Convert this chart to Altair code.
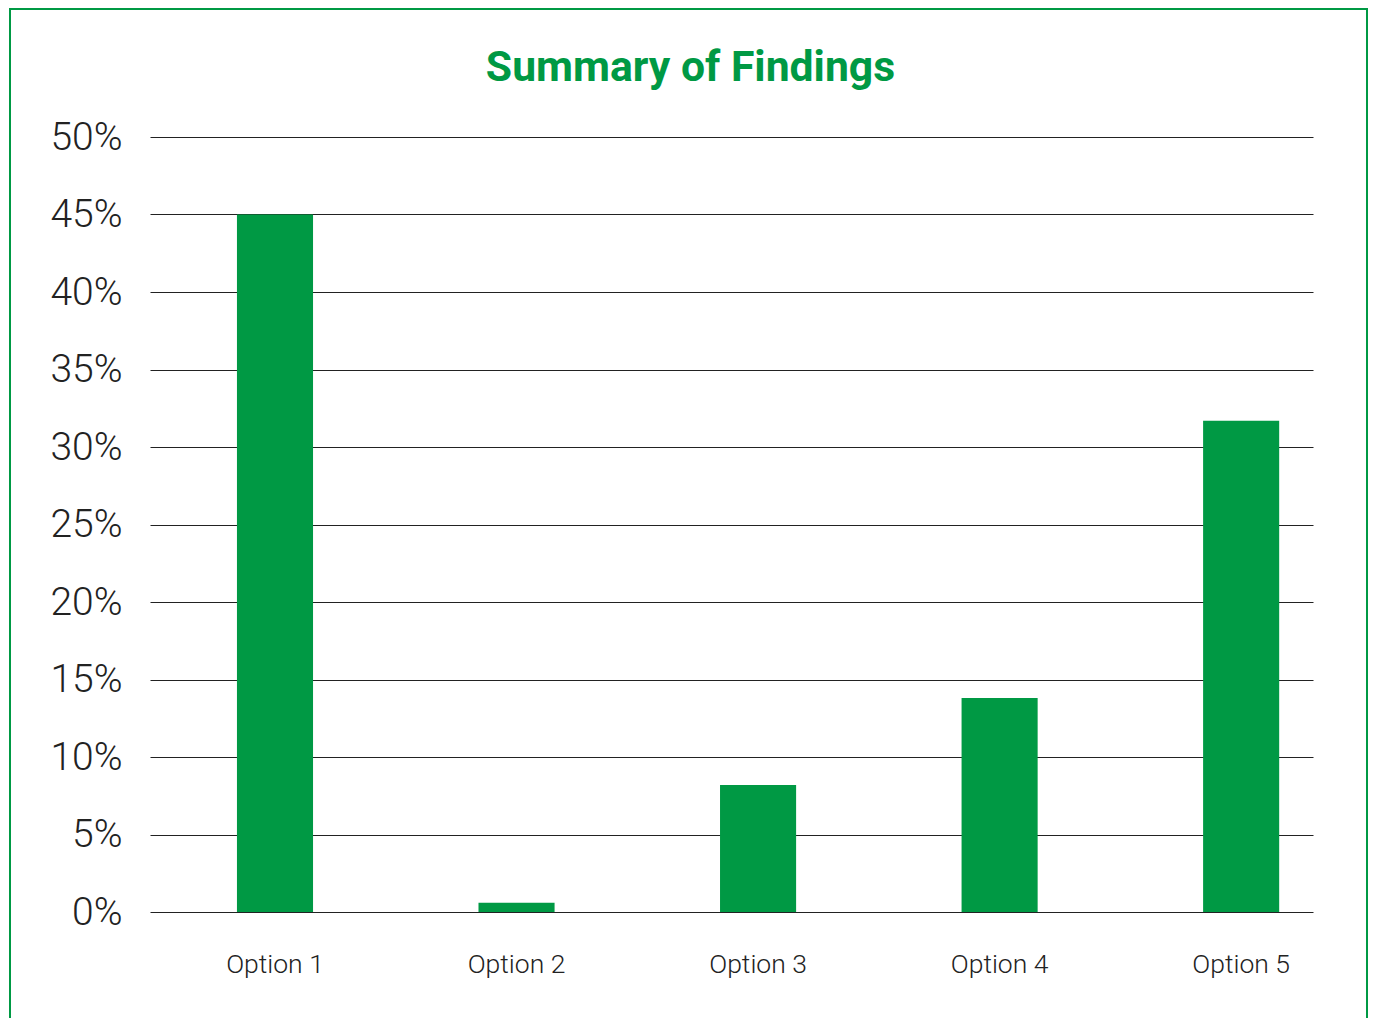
import altair as alt
import pandas as pd

categories = ["Option 1", "Option 2", "Option 3", "Option 4", "Option 5"]
values = [0.45, 0.006, 0.082, 0.138, 0.317]
y_ticks = [0, 0.05, 0.10, 0.15, 0.20, 0.25, 0.30, 0.35, 0.40, 0.45, 0.50]

df = pd.DataFrame({"cat": categories, "val": values})
GREEN = "#009944"

bars = alt.Chart(df).mark_bar(color=GREEN).encode(
    x=alt.X("cat:N", sort=categories,
            scale=alt.Scale(paddingInner=0.685, paddingOuter=0.25, align=0.72),
            axis=alt.Axis(title=None, labelAngle=0, labelFont="Roboto", labelFontWeight=300,
                          labelFontSize=26.5, labelColor="#222222", labelPadding=39,
                          ticks=False, domain=False, grid=False)),
    y=alt.Y("val:Q", scale=alt.Scale(domain=[0, 0.5], nice=False),
            axis=alt.Axis(title=None, values=y_ticks, format=".0%", labelFont="Roboto",
                          labelFontWeight=300, labelFontSize=39, labelColor="#222222",
                          labelPadding=28, ticks=False, domain=False, grid=True,
                          gridColor="#222222", gridWidth=1)),
)

frame = alt.Chart(df).mark_rect(fill=None, stroke=GREEN, strokeWidth=2).encode(
    x=alt.value(-140), x2=alt.value(1217), y=alt.value(-128), y2=alt.value(1000)
)

chart = alt.layer(frame, bars).properties(
    width=1163, height=775,
    autosize=alt.AutoSizeParams(type="none"),
    padding={"left": 142, "top": 129, "right": 55, "bottom": 106},
    title=alt.TitleParams("Summary of Findings", font="Roboto", fontWeight="bold",
                          fontSize=42.7, color=GREEN, anchor="middle", baseline="alphabetic",
                          offset=-116, dx=-41),
).configure_view(stroke=None)

chart.save("out.html", embed_options={"renderer": "svg", "actions": False})
